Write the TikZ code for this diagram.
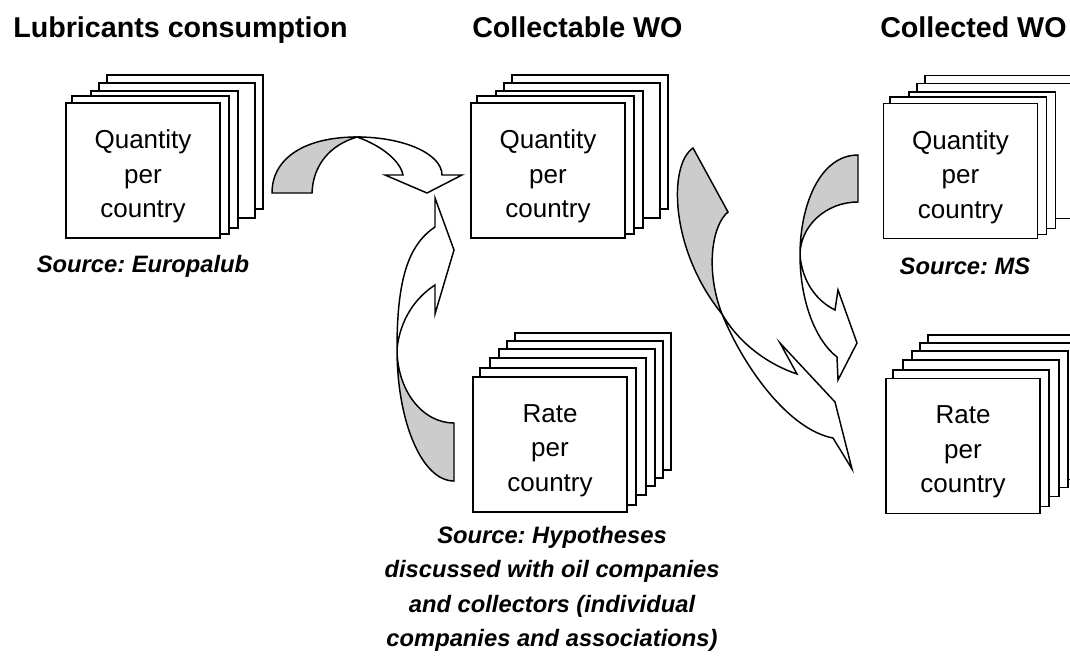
\documentclass[tikz,border=0pt]{standalone}
\usepackage{fontspec}
\setmainfont{Liberation Sans}
\usetikzlibrary{backgrounds}
\frenchspacing

\begin{document}
\begin{tikzpicture}[
    x=0.75pt, y=-0.75pt,
    card/.style={draw, fill=white, line width=1.4pt, inner sep=0pt,
        minimum width=115.5pt, minimum height=101.25pt},
    cardtext/.style={align=center, inner sep=0pt, font=\fontsize{19.5}{26}\selectfont},
    sheet/.style={draw, fill=white, line width=1.4pt},
    heading/.style={anchor=base west, inner sep=0pt, font=\bfseries\fontsize{21.5}{25}\selectfont},
    source/.style={align=center, inner sep=0pt, font=\bfseries\itshape\fontsize{17.8}{25.9}\selectfont},
    back/.style={draw, fill=black!20, line width=1.1pt},
    front/.style={draw, fill=white, line width=1.1pt}
]
\useasboundingbox (0,0) rectangle (1070,660);

\node[heading] (lubtitle) at (13,38) {Lubricants consumption};
\node[heading] (coltitle) at (472,38) {Collectable WO};
\node[heading] (cldtitle) at (880,38) {Collected WO};

\node[card] (lubqty) at (143,170.5) {};
\node[card] (colqty) at (548,170.5) {};
\node[card] (cldqty) at (960.5,171) {};
\node[card] (colrate) at (550,444.5) {};
\node[card] (cldrate) at (963,446) {};

\begin{scope}[on background layer]
\foreach \n in {lubqty,colqty,cldqty}
  \foreach \l/\t/\r/\b in {42/27/42/30,34/19/34/21,26/11/17/11,7/6/8/5}
    \draw[sheet] ([shift={(\l,-\t)}]\n.north west) rectangle ([shift={(\r,-\b)}]\n.south east);
\foreach \n in {colrate,cldrate}
  \foreach \d in {43,35,27,18,8}
    \draw[sheet] ([shift={(\d,-\d)}]\n.north west) rectangle ([shift={(\d,-\d)}]\n.south east);
\end{scope}

\node[cardtext] (lubqtytxt) at ([shift={(0,6)}]lubqty.center) {Quantity\\per\\country};
\node[cardtext] (colqtytxt) at ([shift={(0,6)}]colqty.center) {Quantity\\per\\country};
\node[cardtext] (cldqtytxt) at ([shift={(0,6)}]cldqty.center) {Quantity\\per\\country};
\node[cardtext] (colratetxt) at ([shift={(0,6)}]colrate.center) {Rate\\per\\country};
\node[cardtext] (cldratetxt) at ([shift={(0,6)}]cldrate.center) {Rate\\per\\country};

\node[source] (lubsrc) at (143,266) {Source: Europalub};
\node[source] (cldsrc) at (965,266) {Source: MS};
\node[source] (colsrc) at (552,589) {Source: Hypotheses\\discussed with oil companies\\and collectors (individual\\companies and associations)};

\draw[back] (272,193) .. controls (272,158) and (305,137) .. (357,137)
    .. controls (330,145) and (313,165) .. (312,193) -- cycle;
\draw[front] (357,137) .. controls (404,137) and (442,154) .. (442,175) -- (462,175) -- (427,193)
    -- (385,175) -- (403,175) .. controls (400,160) and (380,145) .. (357,137) -- cycle;

\draw[back] (454,481) .. controls (422,481) and (397,422) .. (397,349)
    .. controls (397,390) and (422,423) .. (454,423) -- cycle;
\draw[front] (397,349) .. controls (397,280) and (408,245) .. (435,227) -- (435,198) -- (454,250)
    -- (435,314) -- (435,285) .. controls (415,298) and (400,320) .. (397,349) -- cycle;

\draw[back] (693,148) -- (728,212) .. controls (712,225) and (705,270) .. (722,314)
    .. controls (670,250) and (668,165) .. (693,148) -- cycle;
\draw[front] (722,314) .. controls (745,370) and (790,430) .. (833,438) -- (852,469) -- (835,402)
    -- (780,343) -- (797,374) .. controls (770,365) and (740,345) .. (722,314) -- cycle;

\draw[back] (858,155) -- (858,202) .. controls (826,202) and (800,226) .. (800,255)
    .. controls (800,205) and (820,155) .. (858,155) -- cycle;
\draw[front] (800,255) .. controls (800,300) and (815,340) .. (837,357) -- (838,380) -- (857,343)
    -- (838,290) -- (835,310) .. controls (815,300) and (802,280) .. (800,255) -- cycle;
\end{tikzpicture}
\end{document}
